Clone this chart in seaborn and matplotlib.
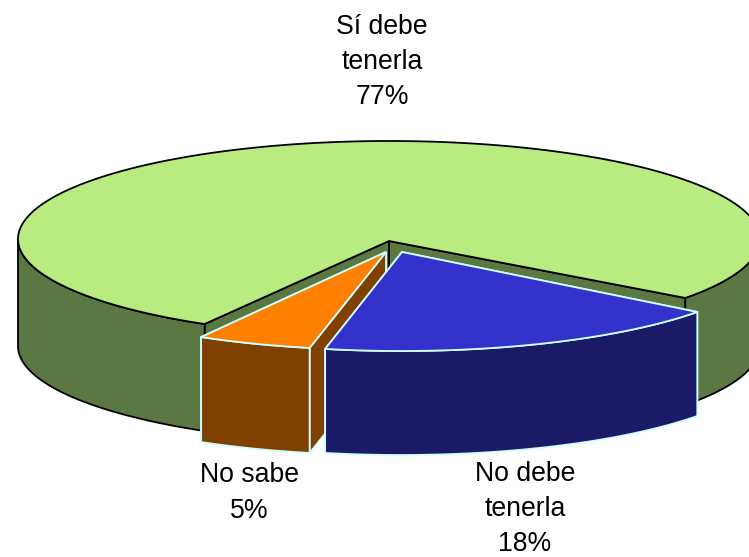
import numpy as np
import matplotlib
matplotlib.use("Agg")
import matplotlib.pyplot as plt
import seaborn as sns

sns.set_theme(style="white")
plt.rcParams['font.family'] = ['Liberation Sans', 'DejaVu Sans']

# Data
categories = ["No debe\ntenerla", "No sabe", "Sí debe\ntenerla"]
values = [18, 5, 77]
top_colors = ["#3333CC", "#FF8000", "#B9EC80"]
side_colors = ["#1A1A66", "#804000", "#5C7842"]
edge_colors = ["#CCFFFF", "#CCFFFF", "#000000"]
label_text = [f"{c}\n{v}%" for c, v in zip(categories, values)]

# Chart geometry (pixel canvas)
W, H = 749, 557
RX, RY = 371, 98
START = -37.0
depths = [104, 105, 107]
apexes = [(402, 252), (386, 252), (389, 241)]
arc_centers = [(401, 253), (385.5, 252), (389, 239)]
label_pos = [(525, 509), (249, 493), (382, 62)]

fig = plt.figure(figsize=(W / 100, H / 100), dpi=100)
ax = fig.add_axes([0, 0, 1, 1])
ax.set_xlim(0, W)
ax.set_ylim(H, 0)
ax.axis("off")

# Angular extents from the values (clockwise on screen)
cum = np.cumsum([0] + values) / sum(values) * 360.0
spans = [(START - cum[i], START - cum[i + 1]) for i in range(len(values))]


def arc(cx, cy, a0, a1, n=240):
    t = np.radians(np.linspace(a0, a1, n))
    return cx + RX * np.cos(t), cy - RY * np.sin(t)


def draw_slice(i, zbase):
    px, py = apexes[i]
    cx, cy = arc_centers[i]
    depth = depths[i]
    a0, a1 = spans[i]
    top, side, edge = top_colors[i], side_colors[i], edge_colors[i]
    lw = 1.3
    x, y = arc(cx, cy, a0, a1)

    # inner cut walls
    walls = [(x[0], y[0]), (x[-1], y[-1])]
    for wx, wy in sorted(walls, key=lambda p: p[1]):
        ax.fill([px, wx, wx, px], [py, wy, wy + depth, py + depth],
                facecolor=side, edgecolor=edge, lw=lw, zorder=zbase)

    # outer rim: only the part on the front half of the ellipse shows
    t = np.linspace(a0, a1, 600)
    idx = np.where(np.sin(np.radians(t)) <= 0)[0]
    for seg in np.split(idx, np.where(np.diff(idx) > 1)[0] + 1):
        if seg.size < 2:
            continue
        tseg = t[seg]
        sx, sy = arc(cx, cy, tseg[0], tseg[-1])
        ax.fill(np.r_[sx, sx[::-1]], np.r_[sy, sy[::-1] + depth],
                facecolor=side, edgecolor=edge, lw=lw, zorder=zbase + 1)

    # top face
    ax.fill(np.r_[px, x], np.r_[py, y], facecolor=top, edgecolor=edge, lw=lw,
            zorder=zbase + 2)


for i, z in zip([2, 1, 0], [1, 5, 10]):
    draw_slice(i, z)

for txt, (lx, ly) in zip(label_text, label_pos):
    ax.text(lx, ly, txt, ha="center", va="center", fontsize=19.2, color="black",
            linespacing=1.47, zorder=20)

fig.savefig("out.png", dpi=100)
